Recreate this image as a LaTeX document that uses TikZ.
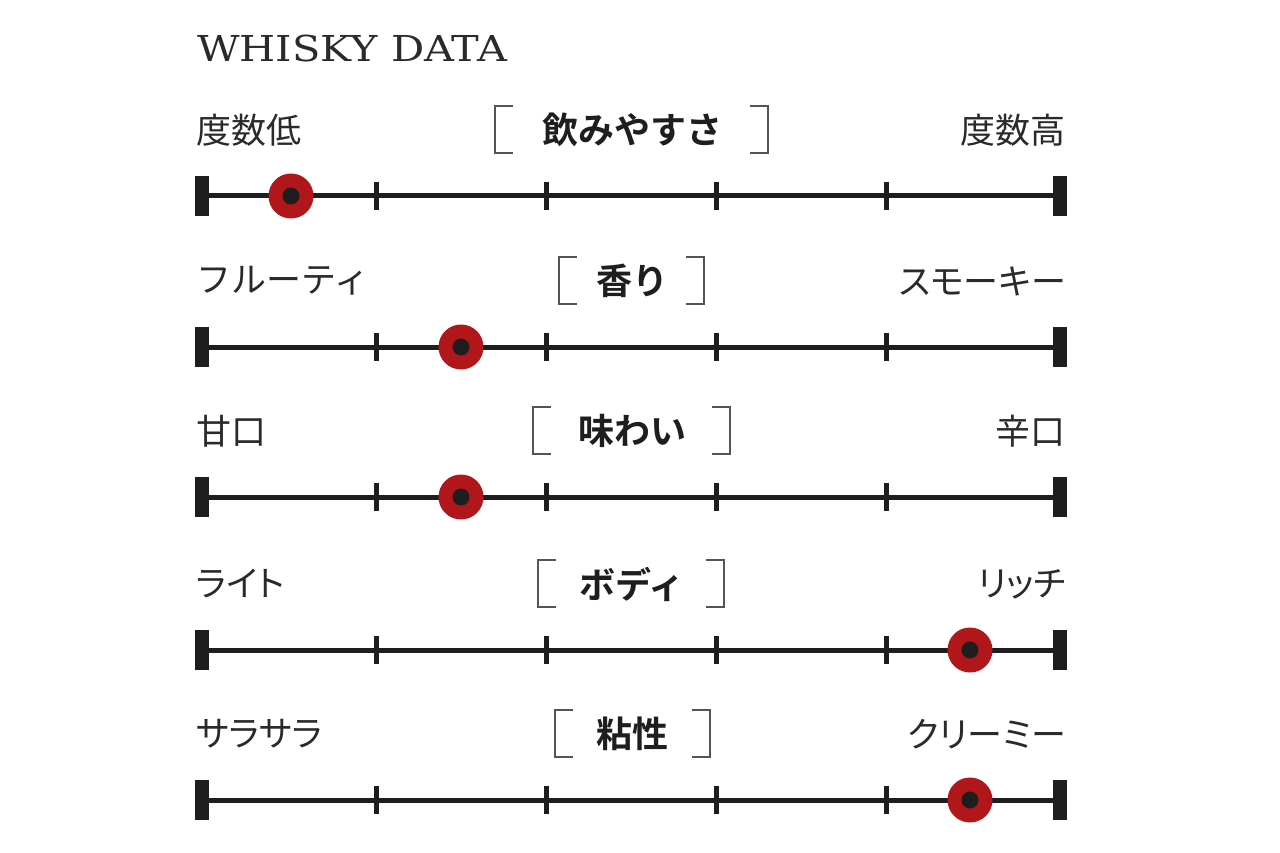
\documentclass[tikz,border=0pt]{standalone}
\usepackage{fontspec}
\usepackage{graphicx}
\newfontfamily\jp[RawFeature=+palt]{Noto Sans CJK JP}
\newfontfamily\jpfull{Noto Sans CJK JP}
\newfontfamily\jpb{Noto Sans CJK JP Bold}
\newfontfamily\titlefont{DejaVu Serif}
\definecolor{barblack}{HTML}{1E1E1E}
\definecolor{dotred}{HTML}{B0161A}
\definecolor{txtgray}{HTML}{2A2A2A}
\definecolor{brgray}{HTML}{555555}
\begin{document}
\begin{tikzpicture}[x=1pt,y=-1pt,
  sidelabel/.style={font=\jp\fontsize{35}{40}\selectfont, text=txtgray, inner sep=0pt},
  centerlabel/.style={font=\jpb\fontsize{36}{40}\selectfont, text=barblack, inner sep=0pt},
  axisline/.style={draw=barblack, line width=5pt},
  tickmark/.style={draw=barblack, line width=5pt},
  endcap/.style={fill=barblack},
  bracketline/.style={draw=brgray, line width=1.8pt},
  ring/.style={circle, fill=dotred, minimum size=45pt, inner sep=0pt},
  core/.style={circle, fill=barblack, minimum size=17pt, inner sep=0pt}]
\useasboundingbox (0,0) rectangle (1280,853);
\fill[white] (0,0) rectangle (1280,853);

\node[font=\titlefont, text=txtgray, anchor=base west, inner sep=0pt] (title) at (197,62) {\resizebox*{310pt}{27pt}{WHISKY DATA}};

% rows: y, left label, right label, center label, bracket left x, bracket right x, marker x
\foreach \y/\lt/\rt/\ct/\bl/\br/\mx [count=\i] in {
  196/度数低/度数高/飲みやすさ/495/768/291,
  347/{\jpfull フルーティ}/スモーキー/香り/559/704/461,
  497/甘口/辛口/味わい/533/730/461,
  650/ライト/リッチ/ボディ/538/724/970,
  800/サラサラ/クリーミー/粘性/555/710/970}{
  \coordinate (L\i) at (202,\y);
  \coordinate (R\i) at (1060,\y);
  \draw[axisline] (L\i) -- (R\i);
  \foreach \tx in {376,546,716,886}{
    \draw[tickmark] (\tx,\y-14) -- (\tx,\y+14);
  }
  \fill[endcap] (195,\y-20) rectangle (209,\y+20);
  \fill[endcap] (1053,\y-20) rectangle (1067,\y+20);
  \node[sidelabel, anchor=west] (lt\i) at (196,\y-66) {\lt};
  \node[sidelabel, anchor=east] (rt\i) at (1066,\y-66) {\rt};
  \node[centerlabel] (ct\i) at (632,\y-66) {\ct};
  \draw[bracketline] (\bl+18,\y-90) -- (\bl,\y-90) -- (\bl,\y-43) -- (\bl+18,\y-43);
  \draw[bracketline] (\br-18,\y-90) -- (\br,\y-90) -- (\br,\y-43) -- (\br-18,\y-43);
  \node[ring] (m\i) at (\mx,\y) {};
  \node[core] (c\i) at (m\i) {};
}
\end{tikzpicture}
\end{document}
